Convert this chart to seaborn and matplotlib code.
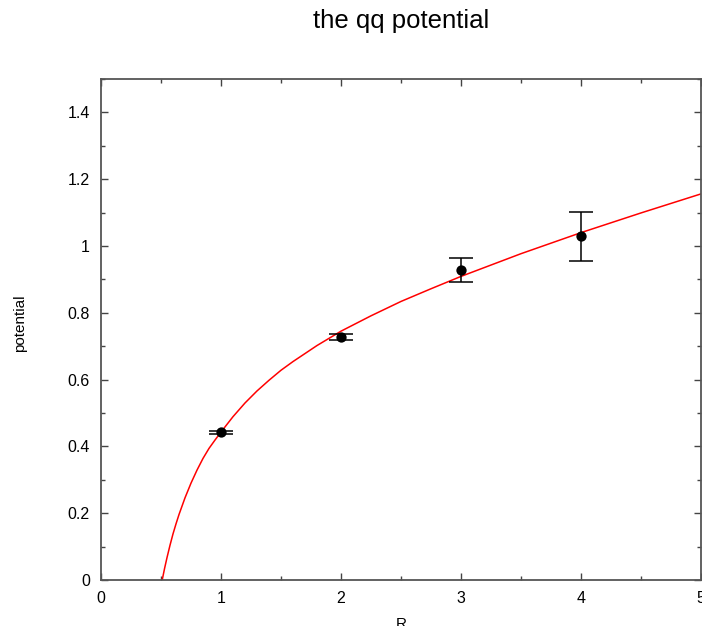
import matplotlib
matplotlib.use("Agg")
import matplotlib.pyplot as plt
from matplotlib.ticker import MultipleLocator, FormatStrFormatter
import seaborn as sns
import pandas as pd

# measured static quark-antiquark potential with errors
r_data = [1, 2, 3, 4]
v_data = [0.442, 0.728, 0.928, 1.029]
v_err = [0.004, 0.009, 0.035, 0.074]

# fitted potential curve
r_fit = [0.51, 0.53, 0.55, 0.575, 0.60, 0.625, 0.65, 0.70, 0.75, 0.80, 0.85,
         0.90, 0.95, 1.00, 1.10, 1.20, 1.30, 1.40, 1.50, 1.60, 1.80, 2.00,
         2.25, 2.50, 2.75, 3.00, 3.50, 4.00, 4.50, 5.00]
v_fit = [0.0, 0.035, 0.067, 0.104, 0.138, 0.168, 0.196, 0.246, 0.290, 0.329,
         0.364, 0.394, 0.419, 0.443, 0.489, 0.530, 0.566, 0.598, 0.628, 0.654,
         0.702, 0.745, 0.791, 0.834, 0.872, 0.909, 0.977, 1.040, 1.099, 1.156]

sns.set_style("ticks")
plt.rcParams['font.family'] = ['Liberation Sans', 'DejaVu Sans']
plt.rcParams['text.color'] = 'black'
plt.rcParams['axes.labelcolor'] = 'black'

fig = plt.figure(figsize=(7.02, 6.26), dpi=100)
ax = fig.add_axes([101 / 702, 46 / 626, 600 / 702, 501 / 626])

fit_df = pd.DataFrame({"R": r_fit, "potential": v_fit})
sns.lineplot(data=fit_df, x="R", y="potential", ax=ax, color="red",
             linewidth=1.1, estimator=None, sort=True, zorder=2)

ax.errorbar(r_data, v_data, yerr=v_err, fmt="none", ecolor="black",
            elinewidth=1.1, capsize=8.3, capthick=1.1, zorder=3)
sns.scatterplot(x=r_data, y=v_data, ax=ax, color="black", s=55,
                edgecolor="black", linewidth=0, zorder=4)

ax.set_xlim(0, 5)
ax.set_ylim(0, 1.5)
ax.xaxis.set_major_locator(MultipleLocator(1))
ax.xaxis.set_minor_locator(MultipleLocator(0.5))
ax.yaxis.set_major_locator(MultipleLocator(0.2))
ax.yaxis.set_minor_locator(MultipleLocator(0.1))
ax.xaxis.set_major_formatter(FormatStrFormatter("%g"))
ax.yaxis.set_major_formatter(FormatStrFormatter("%g"))
ax.set_yticks([0, 0.2, 0.4, 0.6, 0.8, 1.0, 1.2, 1.4])

ax.tick_params(which="both", direction="in", top=True, right=True,
               color="#444444", labelsize=11.5, labelcolor="black")
ax.tick_params(which="major", length=5, width=1, pad=8)
ax.tick_params(which="minor", length=3, width=1)
for sp in ax.spines.values():
    sp.set_visible(True)
    sp.set_color("#555555")
    sp.set_linewidth(1.3)

ax.set_xlabel("R", fontsize=11)
ax.set_ylabel("potential", fontsize=11)
ax.xaxis.set_label_coords(0.5, -(617 - 580) / 501)
ax.yaxis.set_label_coords(-(101 - 27) / 600, (580 - 323.5) / 501)
fig.text(401 / 702, 1 - 21 / 626, "the qq potential", ha="center",
         va="center", fontsize=18.5, color="black")

fig.savefig("out.png", dpi=100)
